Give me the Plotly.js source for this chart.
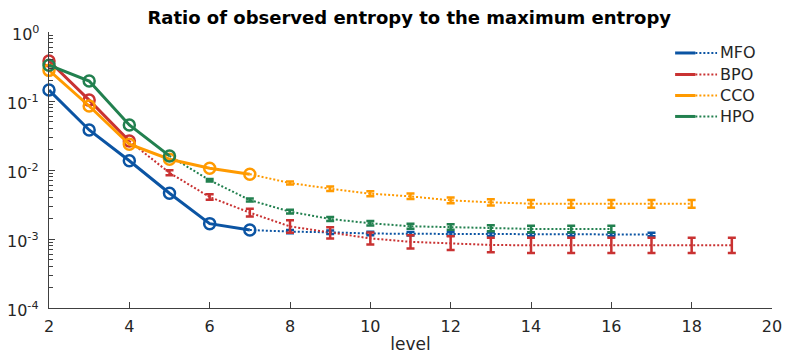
<!DOCTYPE html>
<html>
<head>
<meta charset="utf-8">
<script src="https://cdn.plot.ly/plotly-3.0.1.min.js"></script>
<style>html,body{margin:0;padding:0;background:#fff;}#chart{width:787px;height:354px;}</style>
</head>
<body>
<div id="chart"></div>
<script>
// ---- data ----
const seriesNames = ["MFO", "BPO", "CCO", "HPO"];
const colors = ["#0b54a3", "#c93232", "#ff9a00", "#22804f"];

const mfoLevels = [2,3,4,5,6,7,8,9,10,11,12,13,14,15,16,17];
const mfoValues = [0.144,0.038,0.0136,0.0046,0.00167,0.00135,0.00128,0.00125,0.0012,0.00119,0.00118,0.00117,0.00116,0.00116,0.00116,0.00116];
const mfoErrLog = [0,0,0,0,0,0,0.025,0.025,0.025,0.025,0.025,0.025,0.025,0.025,0.025,0.025];
const mfoLastSolid = 7;

const bpoLevels = [2,3,4,5,6,7,8,9,10,11,12,13,14,15,16,17,18,19];
const bpoValues = [0.38,0.103,0.0263,0.0091,0.00406,0.00241,0.00152,0.00123,0.00102,0.00091,0.00087,0.00082,0.00081,0.00081,0.00081,0.00081,0.00081,0.00081];
const bpoErrLog = [0,0,0,0.036,0.04,0.055,0.09,0.082,0.087,0.097,0.1,0.106,0.11,0.11,0.11,0.11,0.11,0.11];
const bpoLastSolid = 4;

const ccoLevels = [2,3,4,5,6,7,8,9,10,11,12,13,14,15,16,17,18];
const ccoValues = [0.278,0.0847,0.0236,0.0143,0.0106,0.0087,0.00648,0.00536,0.00454,0.00415,0.00363,0.0034,0.00325,0.00323,0.00323,0.00323,0.00323];
const ccoErrLog = [0,0,0,0,0,0,0.022,0.033,0.036,0.04,0.043,0.045,0.055,0.055,0.055,0.055,0.055];
const ccoLastSolid = 7;

const hpoLevels = [2,3,4,5,6,7,8,9,10,11,12,13,14,15,16];
const hpoValues = [0.33,0.195,0.045,0.016,0.0071,0.00367,0.00249,0.00195,0.00169,0.00153,0.00149,0.00143,0.0014,0.0014,0.0014];
const hpoErrLog = [0,0,0,0,0.018,0.022,0.026,0.029,0.033,0.036,0.04,0.043,0.047,0.047,0.047];
const hpoLastSolid = 5;

const xTickVals = [2,4,6,8,10,12,14,16,18,20];
const yTickVals = [1e-4, 1e-3, 1e-2, 1e-1, 1];
const yTickText = ["10<sup>-4</sup>","10<sup>-3</sup>","10<sup>-2</sup>","10<sup>-1</sup>","10<sup>0</sup>"];

const titleText = "Ratio of observed entropy to the maximum entropy";
const xTitle = "level";

// ---- build traces ----
const series = [
  {lv: mfoLevels, v: mfoValues, e: mfoErrLog, last: mfoLastSolid},
  {lv: bpoLevels, v: bpoValues, e: bpoErrLog, last: bpoLastSolid},
  {lv: ccoLevels, v: ccoValues, e: ccoErrLog, last: ccoLastSolid},
  {lv: hpoLevels, v: hpoValues, e: hpoErrLog, last: hpoLastSolid}
];

const dotted = [], errs = [], solids = [];
series.forEach((s, i) => {
  const c = colors[i];
  const idx = s.lv.map((l, k) => k);
  const solidIdx = idx.filter(k => s.lv[k] <= s.last);
  const dotIdx = idx.filter(k => s.lv[k] >= s.last);
  const errIdx = idx.filter(k => s.lv[k] > s.last);
  dotted.push({
    x: dotIdx.map(k => s.lv[k]), y: dotIdx.map(k => s.v[k]),
    mode: 'lines', line: {color: c, width: 2, dash: '2px,2px'},
    showlegend: false, hoverinfo: 'skip', cliponaxis: false
  });
  errs.push({
    x: errIdx.map(k => s.lv[k]), y: errIdx.map(k => s.v[k]),
    mode: 'markers', marker: {color: c, size: 2, opacity: 0},
    error_y: {
      type: 'data', symmetric: false,
      array: errIdx.map(k => s.v[k] * (Math.pow(10, s.e[k]) - 1)),
      arrayminus: errIdx.map(k => s.v[k] * (1 - Math.pow(10, -s.e[k]))),
      color: c, thickness: 2.5, width: 4
    },
    showlegend: false, cliponaxis: false
  });
  solids.push({
    x: solidIdx.map(k => s.lv[k]), y: solidIdx.map(k => s.v[k]),
    mode: 'lines+markers', name: seriesNames[i],
    line: {color: c, width: 3},
    marker: {symbol: 'circle-open', size: 11, color: c, line: {width: 2.5, color: c}},
    showlegend: false, cliponaxis: false
  });
});

const data = [...dotted, ...errs, ...solids];

// ---- custom legend (solid + dotted sample) and y tick labels ----
const axisColor = "#404040";
const textColor = "#262626";
const legRowsY = [0.924, 0.846, 0.770, 0.694];
const shapes = [], annotations = [];
seriesNames.forEach((n, i) => {
  const yy = legRowsY[i];
  shapes.push({type: 'line', xref: 'paper', yref: 'paper', x0: 0.866, x1: 0.894, y0: yy, y1: yy,
    line: {color: colors[i], width: 3}});
  shapes.push({type: 'line', xref: 'paper', yref: 'paper', x0: 0.894, x1: 0.924, y0: yy, y1: yy,
    line: {color: colors[i], width: 2, dash: '2px,2px'}});
  annotations.push({xref: 'paper', yref: 'paper', x: 0.926, y: yy, xanchor: 'left', yanchor: 'middle',
    text: n, showarrow: false, font: {family: 'DejaVu Sans', size: 16, color: textColor}});
});
yTickVals.forEach((v, i) => {
  annotations.push({xref: 'paper', yref: 'y', x: 0, y: Math.log10(v), xanchor: 'right', yanchor: 'middle',
    xshift: -8, yshift: -1, text: yTickText[i], showarrow: false,
    font: {family: 'DejaVu Sans', size: 16, color: textColor}});
});

const layout = {
  width: 787, height: 354,
  margin: {l: 49, r: 15, t: 32, b: 46},
  paper_bgcolor: '#fff', plot_bgcolor: '#fff',
  showlegend: false,
  font: {family: 'DejaVu Sans', size: 16, color: textColor},
  title: {text: titleText, font: {family: 'DejaVu Sans', size: 18, weight: 'bold', color: '#000'},
          x: 0.52, xanchor: 'center', y: 0.95, yanchor: 'middle', yref: 'container'},
  xaxis: {
    range: [2, 20], tickvals: xTickVals, ticks: 'inside', ticklen: 6, tickcolor: axisColor,
    showline: true, linecolor: axisColor, linewidth: 1, showgrid: false, zeroline: false,
    ticklabelstandoff: 4,
    title: {text: xTitle, font: {size: 17, color: textColor}, standoff: 3},
    tickfont: {size: 16, color: textColor}
  },
  yaxis: {
    type: 'log', range: [-4, 0], tickvals: yTickVals, showticklabels: false,
    ticks: 'inside', ticklen: 6, tickcolor: axisColor,
    minor: {ticks: 'inside', ticklen: 3.5, dtick: 'D1', tickcolor: axisColor, showgrid: false},
    showline: true, linecolor: axisColor, linewidth: 1, showgrid: false, zeroline: false
  },
  shapes: shapes, annotations: annotations
};

Plotly.newPlot('chart', data, layout, {displayModeBar: false, staticPlot: true});
</script>
</body>
</html>
